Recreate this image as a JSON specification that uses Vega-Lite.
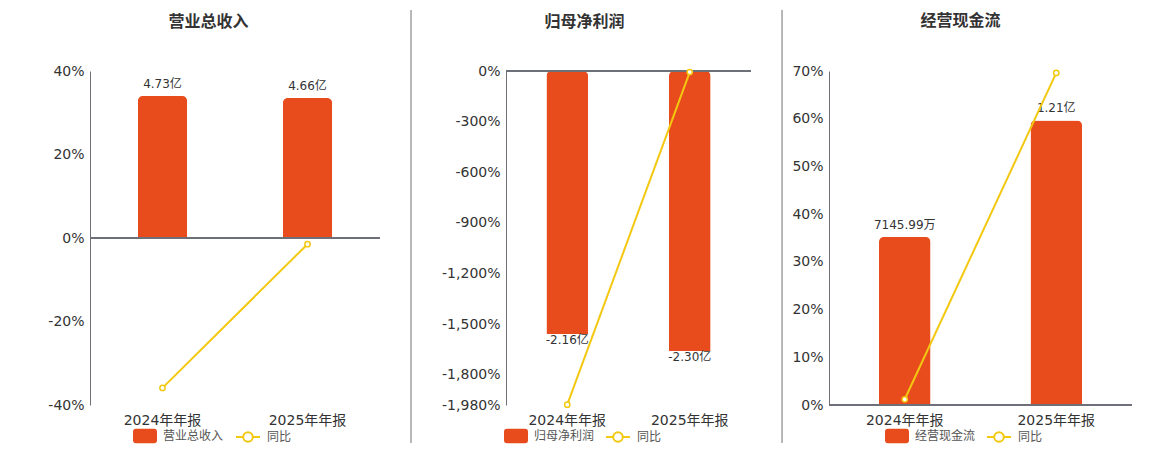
{
  "$schema": "https://vega.github.io/schema/vega-lite/v6.json",
  "padding": {"left": 0, "top": 9, "right": 0, "bottom": 0},
  "autosize": {"type": "pad"},
  "spacing": 0,
  "config": {
    "font": "DejaVu Sans, Noto Sans CJK SC",
    "view": {"stroke": null},
    "title": {"fontSize": 16, "fontWeight": "bold", "color": "#333333", "anchor": "middle", "frame": "bounds", "offset": -20, "dx": 18},
    "axisX": {"domain": false, "ticks": false, "grid": false, "labelFontSize": 14, "labelColor": "#333333", "labelPadding": 8, "title": null, "labelAngle": 0},
    "axisY": {"domainColor": "#6e7079", "ticks": false, "gridColor": "#e0e6f1", "labelFontSize": 14, "labelColor": "#333333", "labelPadding": 6, "title": null},
    "legend": {"orient": "none", "direction": "horizontal", "title": null, "padding": 0, "labelFontSize": 12, "labelColor": "#555555", "labelOffset": 6, "symbolSize": 576}
  },
  "resolve": {
    "scale": {"x": "independent", "fill": "independent", "stroke": "independent"},
    "legend": {"fill": "independent", "stroke": "independent"}
  },
  "hconcat": [
    {
      "title": "营业总收入",
      "width": 290,
      "height": 334,
      "data": {"values": [
        {"period": "2024年年报", "value": 4.73, "label": "4.73亿", "yoy": -35.9},
        {"period": "2025年年报", "value": 4.66, "label": "4.66亿", "yoy": -1.48}
      ]},
      "encoding": {
        "x": {"field": "period", "type": "nominal", "sort": null, "scale": {"paddingInner": 0, "paddingOuter": 0}}
      },
      "layer": [
        {
          "encoding": {
            "y": {"field": "value", "type": "quantitative", "scale": {"domain": [-5.56, 5.56], "nice": false}, "axis": null}
          },
          "layer": [
            {
              "mark": {"type": "bar", "width": {"band": 0.34}, "cornerRadiusEnd": 5},
              "encoding": {
                "fill": {"datum": "营业总收入", "type": "nominal", "scale": {"range": ["#e84b1c"]},
                  "legend": {"legendX": 43, "legendY": 353, "symbolType": "M-0.75,-0.6H0.75Q1,-0.6 1,-0.35V0.35Q1,0.6 0.75,0.6H-0.75Q-1,0.6 -1,0.35V-0.35Q-1,-0.6 -0.75,-0.6Z", "symbolStrokeWidth": 0}}
              }
            },
            {
              "mark": {"type": "text", "baseline": "bottom", "dy": -5, "fontSize": 12, "color": "#333333"},
              "encoding": {"text": {"field": "label"}}
            }
          ]
        },
        {
          "encoding": {
            "y": {"field": "yoy", "type": "quantitative", "scale": {"domain": [-40, 40], "nice": false},
              "axis": {"orient": "left", "values": [-40, -20, 0, 20, 40], "labelExpr": "replace(format(datum.value, ','), '−', '-') + '%'", "minExtent": 90, "maxExtent": 90}}
          },
          "layer": [
            {
              "mark": {"type": "rule", "color": "#a0a0a0", "strokeWidth": 1, "strokeOpacity": 0},
              "encoding": {
                "x": {"datum": "2024年年报", "bandPosition": 0},
                "y": {"datum": 54.6},
                "y2": {"datum": 0}
              }
            },
            {
              "mark": {"type": "rule", "color": "#6e7079", "strokeWidth": 2},
              "encoding": {"x": {"value": 0}, "x2": {"value": "width"}, "y": {"datum": 0}}
            },
            {
              "mark": {"type": "line", "strokeWidth": 2},
              "encoding": {
                "stroke": {"datum": "同比", "type": "nominal", "scale": {"range": ["#f2c811"]},
                  "legend": {"legendX": 145, "legendY": 353, "symbolType": "M-1,0H-0.4M0.4,0H1M-0.4,0A0.4,0.4 0 1,1 0.4,0A0.4,0.4 0 1,1 -0.4,0Z", "symbolStrokeWidth": 2, "symbolFillColor": "#ffffff"}}
              }
            },
            {
              "mark": {"type": "point", "shape": "circle", "size": 28, "filled": true, "fill": "#ffffff", "stroke": "#f2c811", "strokeWidth": 1.5, "opacity": 1}
            }
          ]
        }
      ],
      "resolve": {"scale": {"y": "independent"}}
    },
    {
      "title": "归母净利润",
      "width": 245,
      "height": 334,
      "data": {"values": [
        {"period": "2024年年报", "value": -2.16, "label": "-2.16亿", "yoy": -1978},
        {"period": "2025年年报", "value": -2.30, "label": "-2.30亿", "yoy": -6.48}
      ]},
      "encoding": {
        "x": {"field": "period", "type": "nominal", "sort": null, "scale": {"paddingInner": 0, "paddingOuter": 0}}
      },
      "layer": [
        {
          "encoding": {
            "y": {"field": "value", "type": "quantitative", "scale": {"domain": [-2.743, 0], "nice": false}, "axis": null}
          },
          "layer": [
            {
              "mark": {"type": "bar", "width": {"band": 0.34}, "cornerRadiusEnd": 5},
              "encoding": {
                "fill": {"datum": "归母净利润", "type": "nominal", "scale": {"range": ["#e84b1c"]},
                  "legend": {"legendX": -2, "legendY": 353, "symbolType": "M-0.75,-0.6H0.75Q1,-0.6 1,-0.35V0.35Q1,0.6 0.75,0.6H-0.75Q-1,0.6 -1,0.35V-0.35Q-1,-0.6 -0.75,-0.6Z", "symbolStrokeWidth": 0}}
              }
            },
            {
              "mark": {"type": "text", "baseline": "top", "dy": 1, "fontSize": 12, "color": "#333333"},
              "encoding": {"text": {"field": "label"}}
            }
          ]
        },
        {
          "encoding": {
            "y": {"field": "yoy", "type": "quantitative", "scale": {"domain": [-1980, 0], "nice": false},
              "axis": {"orient": "left", "values": [0, -300, -600, -900, -1200, -1500, -1800, -1980], "labelExpr": "replace(format(datum.value, ','), '−', '-') + '%'", "minExtent": 125, "maxExtent": 125}}
          },
          "layer": [
            {
              "mark": {"type": "rule", "color": "#a0a0a0", "strokeWidth": 1},
              "encoding": {
                "x": {"datum": "2024年年报", "bandPosition": -0.7755},
                "y": {"datum": 361.6},
                "y2": {"datum": -2205}
              }
            },
            {
              "mark": {"type": "rule", "color": "#6e7079", "strokeWidth": 2},
              "encoding": {"x": {"value": 0}, "x2": {"value": "width"}, "y": {"datum": 0}}
            },
            {
              "mark": {"type": "line", "strokeWidth": 2},
              "encoding": {
                "stroke": {"datum": "同比", "type": "nominal", "scale": {"range": ["#f2c811"]},
                  "legend": {"legendX": 99, "legendY": 353, "symbolType": "M-1,0H-0.4M0.4,0H1M-0.4,0A0.4,0.4 0 1,1 0.4,0A0.4,0.4 0 1,1 -0.4,0Z", "symbolStrokeWidth": 2, "symbolFillColor": "#ffffff"}}
              }
            },
            {
              "mark": {"type": "point", "shape": "circle", "size": 28, "filled": true, "fill": "#ffffff", "stroke": "#f2c811", "strokeWidth": 1.5, "opacity": 1}
            }
          ]
        }
      ],
      "resolve": {"scale": {"y": "independent"}}
    },
    {
      "title": "经营现金流",
      "width": 303,
      "height": 334,
      "data": {"values": [
        {"period": "2024年年报", "value": 0.7146, "label": "7145.99万", "yoy": 1.2},
        {"period": "2025年年报", "value": 1.21, "label": "1.21亿", "yoy": 69.6}
      ]},
      "encoding": {
        "x": {"field": "period", "type": "nominal", "sort": null, "scale": {"paddingInner": 0, "paddingOuter": 0}}
      },
      "layer": [
        {
          "encoding": {
            "y": {"field": "value", "type": "quantitative", "scale": {"domain": [0, 1.42], "nice": false}, "axis": null}
          },
          "layer": [
            {
              "mark": {"type": "bar", "width": {"band": 0.34}, "cornerRadiusEnd": 5},
              "encoding": {
                "fill": {"datum": "经营现金流", "type": "nominal", "scale": {"range": ["#e84b1c"]},
                  "legend": {"legendX": 56, "legendY": 353, "symbolType": "M-0.75,-0.6H0.75Q1,-0.6 1,-0.35V0.35Q1,0.6 0.75,0.6H-0.75Q-1,0.6 -1,0.35V-0.35Q-1,-0.6 -0.75,-0.6Z", "symbolStrokeWidth": 0}}
              }
            },
            {
              "mark": {"type": "text", "baseline": "bottom", "dy": -5, "fontSize": 12, "color": "#333333"},
              "encoding": {"text": {"field": "label"}}
            }
          ]
        },
        {
          "encoding": {
            "y": {"field": "yoy", "type": "quantitative", "scale": {"domain": [0, 70], "nice": false},
              "axis": {"orient": "left", "values": [0, 10, 20, 30, 40, 50, 60, 70], "labelExpr": "datum.label + '%'", "minExtent": 77, "maxExtent": 77}}
          },
          "layer": [
            {
              "mark": {"type": "rule", "color": "#a0a0a0", "strokeWidth": 1},
              "encoding": {
                "x": {"datum": "2024年年报", "bandPosition": -0.31},
                "y": {"datum": 82.8},
                "y2": {"datum": -7.96}
              }
            },
            {
              "mark": {"type": "rule", "color": "#6e7079", "strokeWidth": 2},
              "encoding": {"x": {"value": 0}, "x2": {"value": "width"}, "y": {"datum": 0}}
            },
            {
              "mark": {"type": "line", "strokeWidth": 2},
              "encoding": {
                "stroke": {"datum": "同比", "type": "nominal", "scale": {"range": ["#f2c811"]},
                  "legend": {"legendX": 157, "legendY": 353, "symbolType": "M-1,0H-0.4M0.4,0H1M-0.4,0A0.4,0.4 0 1,1 0.4,0A0.4,0.4 0 1,1 -0.4,0Z", "symbolStrokeWidth": 2, "symbolFillColor": "#ffffff"}}
              }
            },
            {
              "mark": {"type": "point", "shape": "circle", "size": 28, "filled": true, "fill": "#ffffff", "stroke": "#f2c811", "strokeWidth": 1.5, "opacity": 1}
            }
          ]
        }
      ],
      "resolve": {"scale": {"y": "independent"}}
    }
  ]
}
